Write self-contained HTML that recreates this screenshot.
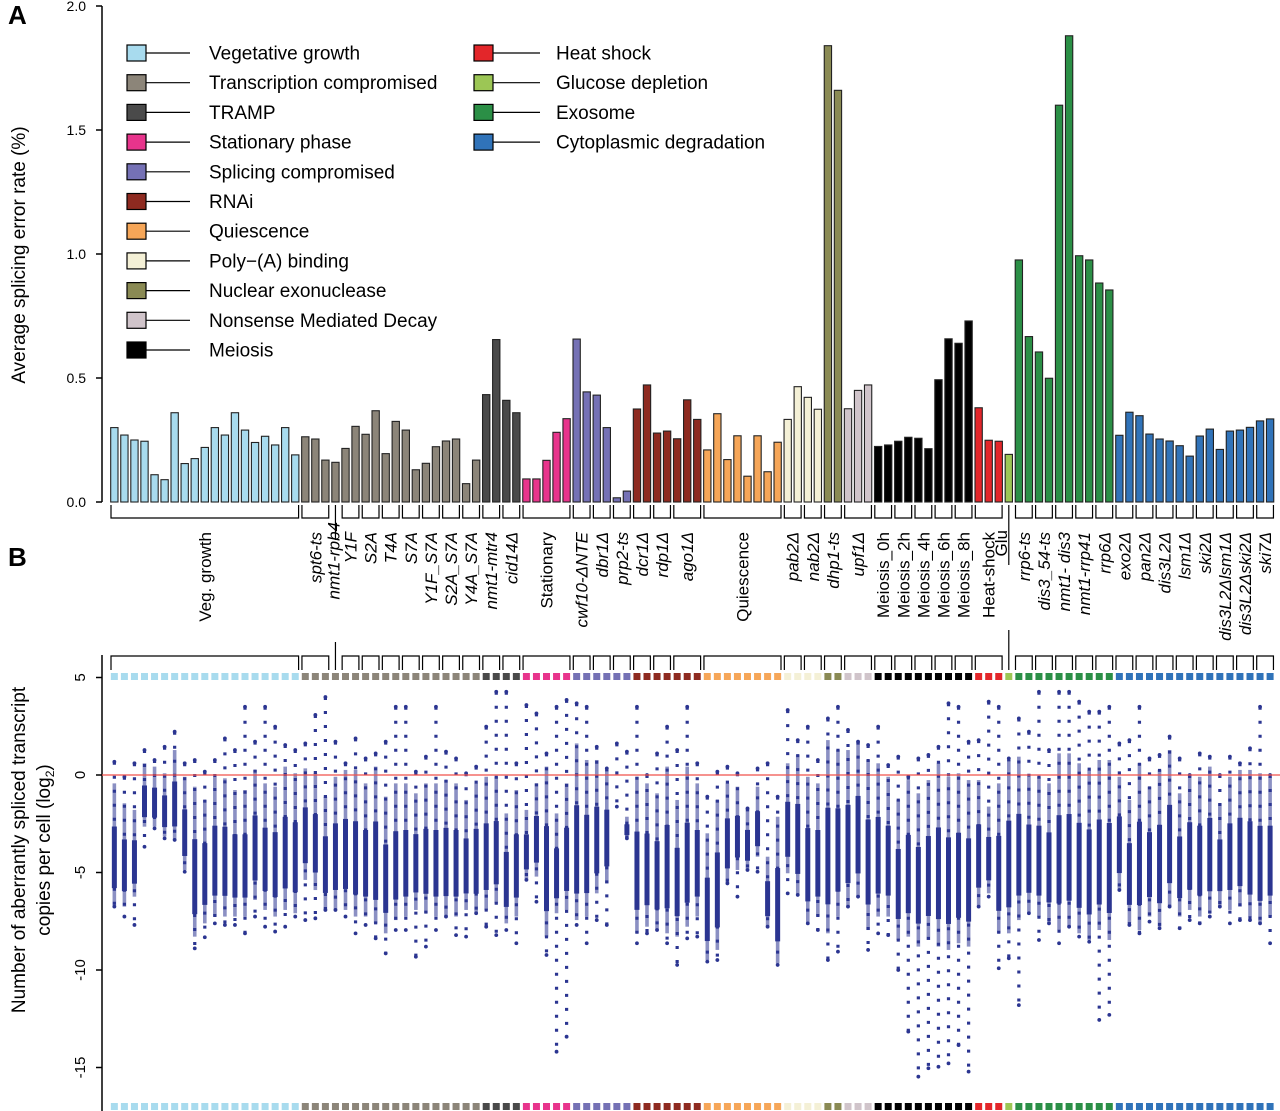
<!DOCTYPE html>
<html><head><meta charset="utf-8"><style>
body{margin:0;background:#fff}
svg{display:block;font-family:"Liberation Sans",Arial,sans-serif}
</style></head><body>
<svg id="fig" width="1280" height="1111" viewBox="0 0 1280 1111" xmlns="http://www.w3.org/2000/svg">
<g id="legend"></g>
<g id="panelA"></g>
<g id="panelB"></g>
</svg>
<script>
const catNames=["Vegetative growth","Transcription compromised","TRAMP","Stationary phase","Splicing compromised","RNAi","Quiescence","Poly\u2212(A) binding","Nuclear exonuclease","Nonsense Mediated Decay","Meiosis","Heat shock","Glucose depletion","Exosome","Cytoplasmic degradation"];
const catColors=["#a8dbee","#8c8579","#4a4a4a","#e8348c","#7571b5","#8e2a20","#f6a658","#f4f0d6","#8a8a54","#d0c4ca","#000000","#e3262a","#9cc655","#2b8f46","#3073b9"];
const catCounts=[19,18,4,5,6,7,8,4,2,3,10,3,1,10,16];
const barValues=[0.30,0.27,0.25,0.245,0.11,0.09,0.36,0.155,0.175,0.22,0.30,0.27,0.36,0.29,0.24,0.265,0.23,0.30,0.19,
0.263,0.254,0.169,0.16,0.216,0.305,0.273,0.368,0.195,0.325,0.29,0.13,0.156,0.223,0.246,0.254,0.074,0.169,
0.433,0.655,0.41,0.36,
0.093,0.093,0.168,0.281,0.336,
0.657,0.444,0.431,0.30,0.017,0.044,
0.375,0.472,0.278,0.286,0.255,0.412,0.333,
0.21,0.356,0.171,0.267,0.104,0.267,0.122,0.241,
0.333,0.465,0.422,0.374,
1.84,1.66,
0.376,0.45,0.472,
0.224,0.23,0.245,0.261,0.257,0.215,0.493,0.658,0.64,0.73,
0.38,0.249,0.245,
0.192,
0.976,0.667,0.605,0.499,1.60,1.88,0.993,0.976,0.883,0.855,
0.269,0.362,0.348,0.274,0.254,0.246,0.227,0.185,0.266,0.294,0.212,0.286,0.29,0.301,0.327,0.335];
const groupLabels=["Veg. growth","spt6-ts","nmt1-rpb4","Y1F","S2A","T4A","S7A","Y1F_S7A","S2A_S7A","Y4A_S7A","nmt1-mtr4","cid14\u0394","Stationary","cwf10-\u0394NTE","dbr1\u0394","prp2-ts","dcr1\u0394","rdp1\u0394","ago1\u0394","Quiescence","pab2\u0394","nab2\u0394","dhp1-ts","upf1\u0394","Meiosis_0h","Meiosis_2h","Meiosis_4h","Meiosis_6h","Meiosis_8h","Heat-shock","Glu","rrp6-ts","dis3_54-ts","nmt1- dis3","nmt1-rrp41","rrp6\u0394","exo2\u0394","pan2\u0394","dis3L2\u0394","lsm1\u0394","ski2\u0394","dis3L2\u0394lsm1\u0394","dis3L2\u0394ski2\u0394","ski7\u0394"];
const groupSizes=[19,3,1,2,2,2,2,2,2,2,2,2,5,2,2,2,2,2,3,8,2,2,2,3,2,2,2,2,2,3,1,2,2,2,2,2,2,2,2,2,2,2,2,2];
const groupItalic=[0,1,1,1,1,1,1,1,1,1,1,1,0,1,1,1,1,1,1,0,1,1,1,1,0,0,0,0,0,0,0,1,1,1,1,1,1,1,1,1,1,1,1,1];
const ticksA=[0,0.5,1.0,1.5,2.0];
const tickLabelsA=["0.0","0.5","1.0","1.5","2.0"];
const ticksB=[5,0,-5,-10,-15];
const tickLabelsB=["5","0","-5","-10","-15"];
const scatMax=[0.68,-0.09,0.6,1.28,0.77,1.45,2.22,0.6,0.77,0.17,0.77,1.88,1.28,3.5,1.71,3.5,2.48,1.54,1.28,1.62,3.08,4.0,1.71,0.6,1.88,0.85,1.11,1.71,3.5,3.5,0.17,0.94,3.5,1.2,0.85,0.09,0.43,2.48,4.27,4.27,0.6,3.59,3.16,1.11,3.5,3.85,3.68,3.5,1.45,0.34,1.62,1.2,3.5,0.0,1.11,2.48,1.28,3.5,0.6,-1.11,0.17,0.43,0.09,-1.71,0.34,0.6,-1.11,3.33,1.79,2.48,0.77,2.9,3.5,2.31,1.71,1.54,2.48,0.51,0.94,-0.09,0.85,1.03,1.45,3.68,3.5,1.71,1.79,3.76,3.5,0.85,2.9,2.22,4.27,1.28,4.27,4.27,3.76,3.25,3.25,3.5,1.62,1.79,3.5,0.85,1.03,1.97,0.85,0.0,1.11,0.94,0.0,0.94,0.6,1.37,3.5,0.0];
const scatCoreTop=[-0.43,-1.45,-1.79,0.6,0.43,0.09,1.28,-0.09,-0.6,-1.28,-0.09,-0.17,-0.77,-0.77,0.26,-0.43,-0.6,0.43,0.09,0.34,0.09,-1.11,-0.09,0.26,0.26,-0.43,0.43,-1.11,-0.43,-0.43,-0.94,-0.43,-0.43,-0.26,-0.43,-1.28,-0.43,-0.09,-0.09,-1.97,-0.77,-1.79,-0.43,0.43,-1.97,-0.43,1.62,0.77,0.77,0.26,1.62,-2.14,-0.09,-0.43,-0.94,0.43,-1.28,0.43,-0.43,-2.99,-1.28,-0.43,-0.6,-1.71,-0.6,-4.19,-2.14,0.6,1.03,-0.09,-0.43,1.79,1.28,1.28,1.71,0.77,0.6,-0.09,-1.28,-0.26,-0.94,-0.26,0.6,-0.09,0.09,-0.26,-0.26,-1.62,-0.43,0.77,0.94,-0.09,-0.09,-0.43,1.11,1.11,0.6,0.26,0.77,0.77,-0.09,-1.28,0.6,-0.6,0.26,1.28,-0.94,0.0,-0.09,0.43,-1.45,-0.09,0.26,0.26,0.09,-0.09];
const scatCoreBot=[-6.75,-6.75,-6.24,-2.65,-2.65,-3.16,-3.33,-4.87,-8.29,-7.61,-7.26,-7.26,-7.26,-7.26,-6.41,-6.92,-7.26,-6.92,-7.09,-5.38,-5.9,-6.92,-6.92,-6.92,-7.26,-7.26,-7.61,-8.12,-7.44,-7.26,-6.92,-7.09,-7.26,-7.26,-7.26,-6.92,-7.09,-6.92,-6.58,-7.61,-7.26,-5.38,-5.21,-8.29,-7.09,-6.92,-7.44,-7.26,-6.07,-5.56,1.62,-3.25,-8.12,-7.78,-7.95,-8.12,-8.29,-7.78,-7.26,-9.49,-8.97,-5.56,-4.87,-4.87,-4.19,-7.78,-9.66,-5.04,-6.15,-7.61,-7.26,-8.12,-7.26,-6.75,-6.24,-7.95,-7.26,-7.26,-8.46,-8.29,-8.8,-8.46,-8.8,-8.97,-8.63,-8.8,-6.75,-6.07,-8.12,-8.12,-7.44,-7.09,-7.26,-7.61,-7.95,-7.78,-8.12,-8.46,-7.95,-8.46,-5.9,-7.61,-7.95,-7.26,-7.78,-6.75,-7.26,-6.92,-7.26,-7.09,-6.75,-6.92,-6.75,-7.26,-7.61,-7.26];
const scatMin=[-6.75,-7.26,-7.69,-3.68,-2.74,-3.25,-3.33,-4.96,-8.89,-8.32,-7.61,-7.69,-7.69,-8.12,-7.26,-7.78,-8.03,-7.78,-7.26,-7.44,-7.35,-6.92,-6.92,-7.26,-8.12,-7.69,-8.38,-9.15,-7.95,-7.95,-9.32,-8.8,-7.95,-7.26,-8.21,-8.29,-7.09,-7.78,-8.21,-7.95,-8.63,-5.38,-6.5,-9.23,-14.19,-13.42,-7.69,-8.63,-7.44,-7.69,-1.62,-3.25,-8.63,-8.12,-7.95,-8.63,-9.74,-8.38,-8.29,-9.57,-9.49,-5.56,-6.24,-4.87,-4.96,-7.78,-9.74,-6.07,-6.15,-7.61,-7.95,-9.49,-9.06,-6.75,-6.24,-8.97,-8.12,-8.21,-10.0,-13.16,-15.47,-15.04,-14.96,-14.79,-13.85,-15.21,-6.75,-6.24,-9.91,-9.4,-11.8,-7.09,-8.46,-7.61,-8.63,-7.78,-8.29,-8.55,-12.56,-12.3,-5.9,-7.69,-8.12,-7.52,-7.86,-6.75,-7.86,-7.44,-7.61,-7.26,-6.75,-7.61,-7.44,-7.44,-7.61,-8.63];

const NS="http://www.w3.org/2000/svg";
function mk(tag,attrs,parent,txt){const e=document.createElementNS(NS,tag);for(const k in attrs)e.setAttribute(k,attrs[k]);if(txt!==undefined)e.textContent=txt;parent.appendChild(e);return e;}
const N=barValues.length;
const x0=110.7, step=10.05, bw=7.3;
function xb(i){return x0+i*step;}
function xc(i){return xb(i)+bw/2;}
function yA(v){return 502-v*248;}
function yB(v){return 775-v*19.5;}
const barCat=[];catCounts.forEach((c,k)=>{for(let j=0;j<c;j++)barCat.push(k);});

// Legend
const lg=document.getElementById('legend');
catNames.forEach((n,k)=>{
  const col=k<11?0:1, row=k<11?k:k-11;
  const y=53+row*29.7;
  const sx=col?474:127, lx2=col?540:190, tx=col?556:209;
  const g=mk('g',{},lg);
  
  
  mk('line',{x1:sx+18,y1:y,x2:lx2,y2:y,stroke:'#000','stroke-width':1.2},g);
  mk('rect',{x:sx,y:y-8,width:19,height:16,fill:catColors[k],stroke:'#000','stroke-width':1.2},g);
  mk('text',{x:tx,y:y+6.5,'font-size':19,fill:'#000'},g,n);
});

// Panel A
const pa=document.getElementById('panelA');
let t=mk('text',{x:8,y:24,'font-size':26,'font-weight':'bold'},pa,'A');

let ax=mk('line',{x1:102,y1:yA(2),x2:102,y2:yA(0),stroke:'#000','stroke-width':1.5},pa);

ticksA.forEach((v,i)=>{
  mk('line',{x1:96,y1:yA(v),x2:102,y2:yA(v),stroke:'#000','stroke-width':1.5},pa);
  const tl=mk('text',{x:86,y:yA(v)+5,'font-size':14,'text-anchor':'end'},pa,tickLabelsA[i]);
  
});
t=mk('text',{x:0,y:0,'font-size':19,'text-anchor':'middle',transform:'translate(25,255) rotate(-90)'},pa,'Average splicing error rate (%)');

barValues.forEach((v,i)=>{
  const r=mk('rect',{x:xb(i),y:yA(v),width:bw,height:v*248,fill:catColors[barCat[i]],stroke:'#222','stroke-width':1.1},pa);
  
  
});
// brackets + labels
let gi=0;
groupSizes.forEach((s,k)=>{
  const l=xb(gi)+0.3, r=xb(gi+s-1)+bw-0.3, cx=(xb(gi)+xb(gi+s-1)+bw)/2;
  const g=mk('g',{},pa);
  
  
  if(s===1){
    const ext=groupLabels[k]==='Glu'?565:540;
    mk('line',{x1:cx,y1:505,x2:cx,y2:ext,stroke:'#000','stroke-width':1.2},g);
  } else {
    mk('path',{d:`M${l},505V518H${r}V505`,fill:'none',stroke:'#000','stroke-width':1.2},g);
  }
  let lx=cx+6, ly=532;
  if(groupLabels[k]==='Glu'){lx=cx-2;ly=530;}
  if(groupLabels[k]==='nmt1-rpb4'){lx=cx+4;ly=522;}
  const lab=mk('text',{x:0,y:0,'font-size':17,'text-anchor':'end','font-style':groupItalic[k]?'italic':'normal',transform:`translate(${lx},${ly}) rotate(-90)`},pa,groupLabels[k]);
  
  
  gi+=s;
});

// Panel B
const pb=document.getElementById('panelB');
t=mk('text',{x:8,y:566,'font-size':26,'font-weight':'bold'},pb,'B');

ax=mk('line',{x1:102,y1:655,x2:102,y2:1111,stroke:'#000','stroke-width':1.5},pb);

ticksB.forEach((v,i)=>{
  mk('line',{x1:96,y1:yB(v),x2:102,y2:yB(v),stroke:'#000','stroke-width':1.5},pb);
  const tl=mk('text',{x:0,y:0,'font-size':15,'text-anchor':'middle',transform:`translate(${85},${yB(v)}) rotate(-90)`},pb,tickLabelsB[i]);
  
});
t=mk('text',{x:0,y:0,'font-size':19,'text-anchor':'middle',transform:'translate(25,850) rotate(-90)'},pb,'Number of aberrantly spliced transcript');

t=mk('text',{x:0,y:0,'font-size':19,'text-anchor':'middle',transform:'translate(50,850) rotate(-90)'},pb);

t.appendChild(document.createTextNode('copies per cell (log'));
mk('tspan',{'font-size':12,dy:4},t,'2');
mk('tspan',{dy:-4},t,')');
// top brackets
gi=0;
groupSizes.forEach((s,k)=>{
  const l=xb(gi)+0.3, r=xb(gi+s-1)+bw-0.3, cx=(xb(gi)+xb(gi+s-1)+bw)/2;
  const g=mk('g',{},pb);
  
  
  if(s===1){
    const top=groupLabels[k]==='Glu'?630:642;
    mk('line',{x1:cx,y1:top,x2:cx,y2:670,stroke:'#000','stroke-width':1.2},g);
  } else {
    mk('path',{d:`M${l},670V656H${r}V670`,fill:'none',stroke:'#000','stroke-width':1.2},g);
  }
  gi+=s;
});
// color squares
for(let i=0;i<N;i++){
  const s1=mk('rect',{x:xc(i)-3.5,y:673,width:7,height:7,fill:catColors[barCat[i]]},pb);
  
  
  const s2=mk('rect',{x:xc(i)-3.5,y:1103,width:7,height:7,fill:catColors[barCat[i]]},pb);
  
  
}
// scatter columns
for(let i=0;i<N;i++){
  const g=mk('g',{},pb);
  
  
  const cx=xc(i);
  mk('line',{x1:cx,y1:yB(scatMax[i]),x2:cx,y2:yB(scatMin[i]),stroke:'#2b3591','stroke-width':3.2,'stroke-dasharray':'3 11'},g);
  const top=yB(scatCoreTop[i]), bot=yB(scatCoreBot[i]);
  if(bot-top>1){
    mk('rect',{x:cx-1.8,y:top,width:3.6,height:bot-top,fill:'#2b3591','fill-opacity':0.55},g);
    const mt=top+(bot-top)*0.35, mb=top+(bot-top)*0.85;
    mk('rect',{x:cx-2.5,y:mt,width:5,height:mb-mt,fill:'#2b3591'},g);
  }
  mk('circle',{cx:cx,cy:yB(scatMax[i]),r:1.9,fill:'#2b3591'},g);
  mk('circle',{cx:cx,cy:yB(scatMin[i]),r:1.9,fill:'#2b3591'},g);
}
const zl=mk('line',{x1:102,y1:yB(0),x2:1280,y2:yB(0),stroke:'#f0524a','stroke-width':1.3},pb);


</script>
</body></html>
